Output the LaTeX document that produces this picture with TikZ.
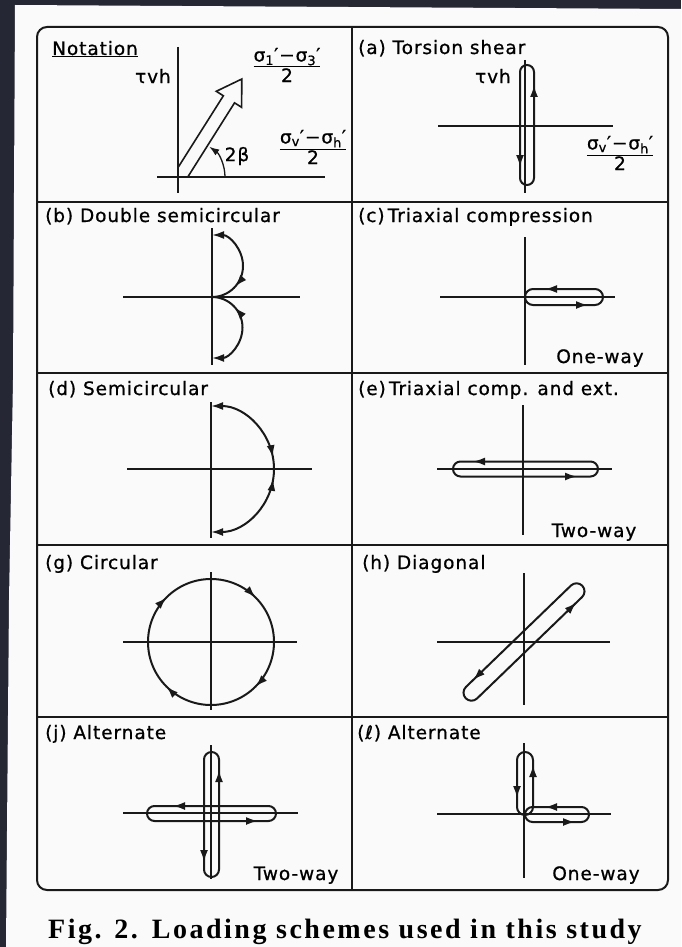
\documentclass[tikz,border=0pt]{standalone}
\usepackage{fontspec}
\setmainfont[FakeBold=0.8, LetterSpace=5]{DejaVu Sans}
\newfontfamily\capfont[LetterSpace=9]{Liberation Serif}
\usetikzlibrary{arrows.meta, decorations.markings}

\definecolor{scanbg}{RGB}{37,40,52}
\definecolor{paper}{RGB}{250,250,250}
\definecolor{ink}{RGB}{25,25,25}

\tikzset{
  axis/.style={ink, line width=1.3pt},
  loadpath/.style={ink, line width=2pt},
  tip/.style={ink, line width=2pt, -{Latex[length=12pt,width=8pt]}},
  slot/.style={loadpath, rounded corners=#1},
  backmark/.style={decoration={markings, mark=at position #1 with {\arrowreversed{Latex[length=12pt,width=8pt]}}}, postaction=decorate},
  title/.style={anchor=base west, font=\fontsize{18.5}{21}\selectfont, inner sep=0pt},
  label/.style={font=\fontsize{18.5}{21}\selectfont, inner sep=0pt},
  frac/.style={align=center, font=\fontsize{18.5}{18.5}\selectfont, inner sep=0pt},
}

\begin{document}
\begin{tikzpicture}[x=1pt, y=1pt]
% page
\useasboundingbox (0,0) rectangle (681,-947);
\fill[scanbg] (0,0) rectangle (681,-947);
\fill[paper] (15,-5) -- (681,-9) -- (681,-947) -- (6,-947) -- (9,-600) -- (13,-380) -- cycle;

% frame and grid
\draw[ink, line width=2pt, rounded corners=10pt] (37,-27) rectangle (668,-890);
\draw[ink, line width=1.6pt] (352,-27) -- (352,-890);
\foreach \y in {202,373,545,717}
  \draw[ink, line width=1.6pt] (37,-\y) -- (668,-\y);

% notation
\node[title] (notation) at (52,-55) {\underline{Notation}};
\begin{scope}[shift={(178,-177)}]
  \draw[axis] (0,130) -- (0,-16);
  \draw[axis] (-21,0) -- (147,0);
  \begin{scope}[shift={(5,5)}, rotate=57.7]
    \draw[loadpath, line width=1.6pt] (0.7,6.6) -- (86,6.6) -- (86,15) -- (110,0) -- (86,-15) -- (86,-6.6) -- (-1.5,-6.7);
  \end{scope}
  \draw[ink, line width=1.3pt, -{Latex[length=10pt,width=7pt]}] (47,0) arc[start angle=0, end angle=55, radius=37];
\end{scope}
\node[label, anchor=east] (tauN) at (171,-76) {τvh};
\node[frac] (s13) at (287,-65) {\underline{σ\textsubscript{1}′−σ\textsubscript{3}′}\\2};
\node[frac] (svhN) at (313,-147) {\underline{σ\textsubscript{v}′−σ\textsubscript{h}′}\\2};
\node[label] (beta) at (237,-156) {2β};

% (a)
\node[title] (ta) at (358,-54) {(a) Torsion shear};
\begin{scope}[shift={(525,-126)}]
  \draw[axis] (0,66) -- (0,-67);
  \draw[axis] (-87,0) -- (88,0);
  \draw[slot=7pt] (-5,-59) rectangle (9,61);
  \draw[tip] (9,29) -- (9,41);
  \draw[tip] (-5,-29) -- (-5,-41);
\end{scope}
\node[label, anchor=east] (taua) at (511,-76) {τvh};
\node[frac] (sa) at (620,-153) {\underline{σ\textsubscript{v}′−σ\textsubscript{h}′}\\2};

% (b)
\node[title] (tb) at (45,-222) {(b) Double semicircular};
\begin{scope}[shift={(212,-297)}]
  \draw[axis] (0,69) -- (0,-68);
  \draw[axis] (-89,0) -- (88,0);
  \draw[loadpath, -{Latex[length=12pt,width=8pt]}, backmark=0.27] (0,0) arc[start angle=-90, end angle=90, radius=31];
  \draw[loadpath, -{Latex[length=12pt,width=8pt]}, backmark=0.27] (0,0) arc[start angle=90, end angle=-90, radius=30.5];
\end{scope}

% (c)
\node[title] (tc) at (358,-222) {(c)\,Triaxial compression};
\begin{scope}[shift={(525,-297)}]
  \draw[axis] (0,60) -- (0,-68);
  \draw[axis] (-85,0) -- (90,0);
  \draw[slot=8pt] (0,-8) rectangle (78,8);
  \draw[tip] (32,8) -- (20,8);
  \draw[tip] (51,-8) -- (63,-8);
\end{scope}
\node[label, anchor=base] (owc) at (600,-363) {One-way};

% (d)
\node[title] (td) at (48,-395) {(d) Semicircular};
\begin{scope}[shift={(211,-469)}]
  \draw[axis] (0,67) -- (0,-69);
  \draw[axis] (-84,0) -- (101,0);
  \draw[loadpath, -{Latex[length=12pt,width=8pt]}, backmark=0.12] (63,0) arc[start angle=0, end angle=90, radius=63];
  \draw[loadpath, -{Latex[length=12pt,width=8pt]}, backmark=0.1] (63,0) arc[start angle=0, end angle=-90, radius=63];
\end{scope}

% (e)
\node[title] (te) at (358,-395) {(e)\,Triaxial comp. and ext.};
\begin{scope}[shift={(523,-469)}]
  \draw[axis] (0,64) -- (0,-66);
  \draw[axis] (-86,0) -- (89,0);
  \draw[slot=7.5pt] (-70,-7.5) rectangle (75,7.5);
  \draw[tip] (-38,7.5) -- (-50,7.5);
  \draw[tip] (42,-7.5) -- (54,-7.5);
\end{scope}
\node[label, anchor=base] (twe) at (594,-537) {Two-way};

% (g)
\node[title] (tg) at (45,-569) {(g) Circular};
\begin{scope}[shift={(211,-642)}]
  \draw[axis] (0,70) -- (0,-68);
  \draw[axis] (-88,0) -- (86,0);
  \draw[loadpath, decoration={markings,
      mark=at position 0.125 with {\arrow{Latex[length=12pt,width=8pt]}},
      mark=at position 0.375 with {\arrow{Latex[length=12pt,width=8pt]}},
      mark=at position 0.625 with {\arrow{Latex[length=12pt,width=8pt]}},
      mark=at position 0.875 with {\arrow{Latex[length=12pt,width=8pt]}}},
    postaction=decorate] (0,63) arc[start angle=90, end angle=-270, radius=63];
\end{scope}

% (h)
\node[title] (th) at (362,-569) {(h) Diagonal};
\begin{scope}[shift={(524,-642)}]
  \draw[axis] (0,69) -- (0,-63);
  \draw[axis] (-87,0) -- (86,0);
  \begin{scope}[rotate=44]
    \draw[slot=8pt] (-81,-8) -- (81,-8) -- (81,8) -- (-81,8) -- cycle;
    \draw[tip] (53,-8) -- (65,-8);
    \draw[tip] (-51,8) -- (-63,8);
  \end{scope}
\end{scope}

% (j)
\node[title] (tj) at (45,-739) {(j) Alternate};
\begin{scope}[shift={(211,-813)}]
  \draw[axis] (0,68) -- (0,-66);
  \draw[axis] (-88,0) -- (87,0);
  \draw[slot=7.5pt] (-7,-64) rectangle (8,61);
  \draw[slot=7.5pt] (-64,-8) rectangle (65,7);
  \draw[tip] (8,31) -- (8,43);
  \draw[tip] (-7,-37) -- (-7,-49);
  \draw[tip] (-26,7) -- (-38,7);
  \draw[tip] (35,-8) -- (47,-8);
\end{scope}
\node[label, anchor=base] (twj) at (296,-880) {Two-way};

% (l)
\node[title] (tl) at (357,-739) {(ℓ) Alternate};
\begin{scope}[shift={(524,-814)}]
  \draw[axis] (0,71) -- (0,-64);
  \draw[axis] (-87,0) -- (87,0);
  \draw[slot=8pt] (-7,-1) rectangle (9,62);
  \draw[slot=7.5pt] (1,-8) rectangle (65,7);
  \draw[tip] (9,37) -- (9,49);
  \draw[tip] (-7,28) -- (-7,16);
  \draw[tip] (33,7) -- (21,7);
  \draw[tip] (39,-8) -- (51,-8);
\end{scope}
\node[label, anchor=base] (owl) at (596,-880) {One-way};

% caption
\node[anchor=base west, inner sep=0pt, font=\capfont\bfseries\fontsize{28}{32}\selectfont] (cap) at (48,-938) {Fig. 2.\hspace{14pt}Loading schemes used in this study};
\end{tikzpicture}
\end{document}
